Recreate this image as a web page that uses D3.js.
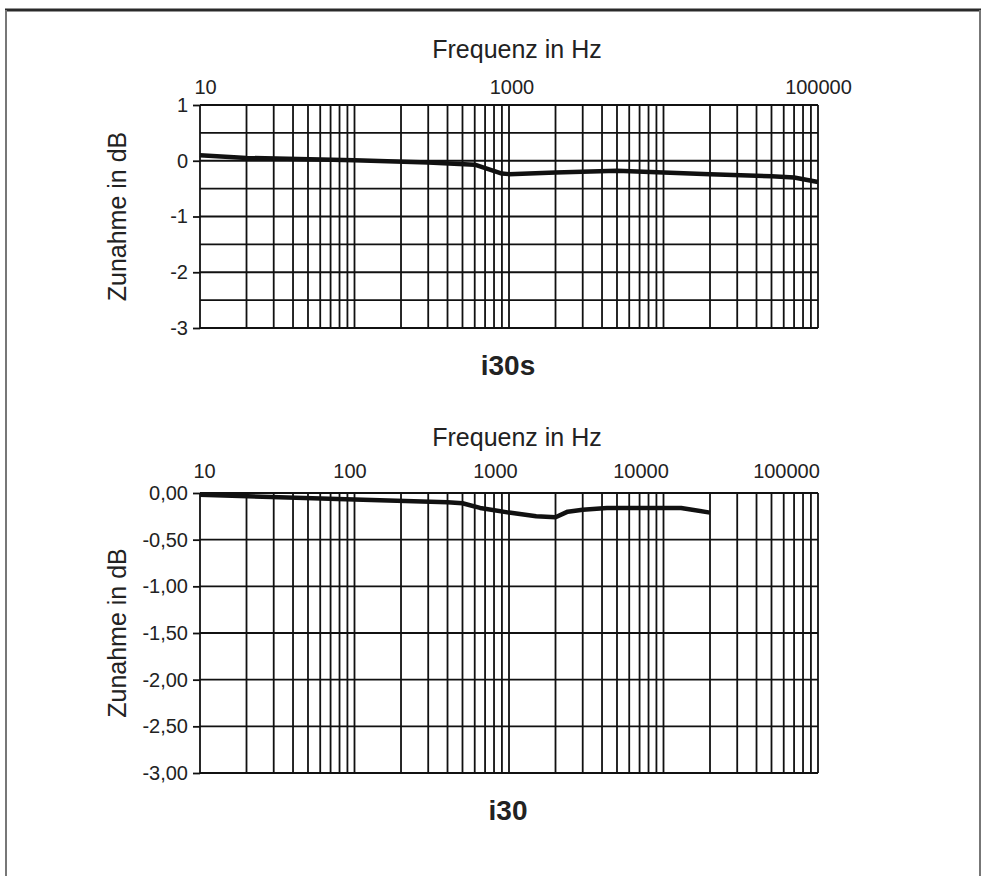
<!DOCTYPE html>
<html>
<head>
<meta charset="utf-8">
<script src="https://cdn.jsdelivr.net/npm/d3@7"></script>
<style>
  body { margin: 0; background: #fff; }
  svg { display: block; font-family: "Liberation Sans", Arial, sans-serif; }
</style>
</head>
<body>
<svg width="984" height="876"></svg>
<script>
// two frequency response panels, log x axis (Hz), gain in dB

// upper panel: i30s
var topFreq = [10, 20, 100, 300, 600, 900, 1000, 2000, 5000, 10000, 20000, 50000, 70000, 100000];
var topGain = [0.10, 0.05, 0.01, -0.03, -0.07, -0.23, -0.24, -0.21, -0.18, -0.21, -0.24, -0.28, -0.30, -0.38];
var topYTicks = [1, 0, -1, -2, -3];
var topYLabels = ["1", "0", "-1", "-2", "-3"];
var topXLabels = [10, 1000, 100000];

// lower panel: i30
var bottomFreq = [10, 100, 400, 500, 650, 1000, 1500, 2000, 2400, 3000, 4300, 10000, 13000, 20000];
var bottomGain = [-0.02, -0.07, -0.10, -0.11, -0.16, -0.21, -0.25, -0.26, -0.20, -0.18, -0.16, -0.16, -0.16, -0.21];
var bottomYTicks = [0, -0.5, -1, -1.5, -2, -2.5, -3];
var bottomYLabels = ["0,00", "-0,50", "-1,00", "-1,50", "-2,00", "-2,50", "-3,00"];
var bottomXLabels = [10, 100, 1000, 10000, 100000];

var svg = d3.select("svg");

// outer frame: heavy top rule, thin grey sides
svg.append("line").attr("x1", 5).attr("x2", 981).attr("y1", 10).attr("y2", 10)
  .attr("stroke", "#2a2a2a").attr("stroke-width", 3);
svg.append("line").attr("x1", 6).attr("x2", 6).attr("y1", 10).attr("y2", 876)
  .attr("stroke", "#777").attr("stroke-width", 2);
svg.append("line").attr("x1", 980).attr("x2", 980).attr("y1", 10).attr("y2", 876)
  .attr("stroke", "#777").attr("stroke-width", 2);

function drawPanel(p) {
  var x = d3.scaleLog().domain([10, 100000]).range([200, 818]);
  var xl = d3.scaleLog().domain([10, 100000]).range(p.labelRange);
  var y = d3.scaleLinear().domain(p.yDomain).range([p.top, p.bottom]);
  var g = svg.append("g");

  // horizontal grid every 0.5 dB
  g.append("g").selectAll("line").data(d3.range(p.yDomain[0], p.yDomain[1] - 0.01, -0.5))
    .join("line")
    .attr("x1", 200).attr("x2", 818)
    .attr("y1", function(d) { return y(d); }).attr("y2", function(d) { return y(d); })
    .attr("stroke", "#111").attr("stroke-width", 1.8);

  // vertical log grid
  g.append("g").selectAll("line").data(x.ticks())
    .join("line")
    .attr("x1", function(d) { return x(d); }).attr("x2", function(d) { return x(d); })
    .attr("y1", p.top).attr("y2", p.bottom)
    .attr("stroke", "#111").attr("stroke-width", 1.8);

  // y axis labels
  var ya = g.append("g").attr("transform", "translate(200,0)")
    .call(d3.axisLeft(y).tickValues(p.yTicks).tickSize(7).tickPadding(5)
      .tickFormat(function(d, i) { return p.yLabels[i]; }));
  ya.select(".domain").remove();
  ya.selectAll("line").attr("stroke", "#111").attr("stroke-width", 1.8);
  ya.selectAll("text").attr("font-size", 20).attr("fill", "#222")
    .attr("font-family", "Liberation Sans, Arial, sans-serif");

  // x axis labels on top
  var xa = g.append("g").attr("transform", "translate(0," + (p.top - p.labelGap) + ")")
    .call(d3.axisTop(xl).tickValues(p.xLabels).tickSize(0).tickPadding(0)
      .tickFormat(d3.format("d")));
  xa.select(".domain").remove();
  xa.selectAll("text").attr("font-size", 20).attr("fill", "#222")
    .attr("font-family", "Liberation Sans, Arial, sans-serif");

  // response curve
  var line = d3.line()
    .x(function(d) { return x(d[0]); })
    .y(function(d) { return y(d[1]); });
  g.append("path").datum(d3.zip(p.freq, p.gain))
    .attr("d", line).attr("fill", "none")
    .attr("stroke", "#111").attr("stroke-width", 4.5).attr("stroke-linejoin", "round");

  // titles
  g.append("text").attr("x", 517).attr("y", p.top - 47).attr("text-anchor", "middle")
    .attr("font-size", 25).attr("fill", "#222").text("Frequenz in Hz");
  g.append("text").attr("transform", "translate(126," + ((p.top + p.bottom) / 2) + ") rotate(-90)")
    .attr("text-anchor", "middle").attr("font-size", 25).attr("fill", "#222")
    .text("Zunahme in dB");
  g.append("text").attr("x", 508).attr("y", p.bottom + 47).attr("text-anchor", "middle")
    .attr("font-size", 28).attr("font-weight", "bold").attr("fill", "#222")
    .text(p.title);
}

drawPanel({
  freq: topFreq, gain: topGain,
  yDomain: [1, -3], top: 105, bottom: 328,
  yTicks: topYTicks, yLabels: topYLabels,
  xLabels: topXLabels, labelRange: [205, 818], labelGap: 11,
  title: "i30s"
});

drawPanel({
  freq: bottomFreq, gain: bottomGain,
  yDomain: [0, -3], top: 493, bottom: 773,
  yTicks: bottomYTicks, yLabels: bottomYLabels,
  xLabels: bottomXLabels, labelRange: [204, 786], labelGap: 15,
  title: "i30"
});
</script>
</body>
</html>
